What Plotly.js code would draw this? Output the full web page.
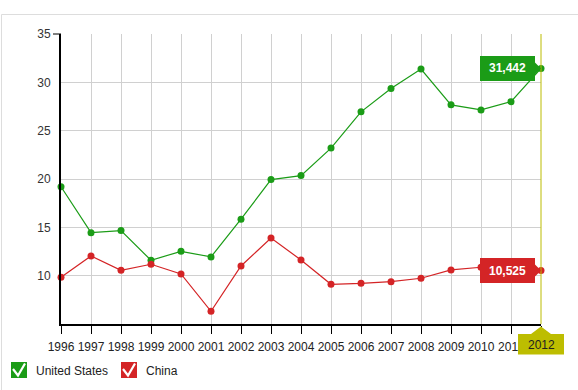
<!DOCTYPE html>
<html>
<head>
<meta charset="utf-8">
<script src="https://cdn.plot.ly/plotly-3.0.1.min.js"></script>
<style>
  html, body { margin: 0; padding: 0; background: #fff; }
  #chart { width: 578px; height: 390px; }
</style>
</head>
<body>
<div id="chart"></div>
<script>
const years = [1996, 1997, 1998, 1999, 2000, 2001, 2002, 2003, 2004, 2005, 2006, 2007, 2008, 2009, 2010, 2011, 2012];
const usValues = [19.2, 14.45, 14.66, 11.59, 12.52, 11.94, 15.84, 19.94, 20.35, 23.2, 26.95, 29.36, 31.37, 27.67, 27.15, 28.0, 31.442];
const chinaValues = [9.83, 12.04, 10.56, 11.18, 10.18, 6.31, 11.0, 13.9, 11.62, 9.11, 9.21, 9.38, 9.73, 10.59, 10.87, 10.8, 10.525];
const seriesNames = ['United States', 'China'];
const seriesColors = ['#1b9c17', '#d42426'];
const yTickVals = [10, 15, 20, 25, 30, 35];
const xTickLabels = years.map(String);

const W = 578, H = 390;
const M = {l: 61, r: 37, t: 34, b: 66};
const PW = W - M.l - M.r, PH = H - M.t - M.b;
const px2paperX = p => (p - M.l) / PW;
const px2paperY = p => (H - M.b - p) / PH;
const FONT = 'Arial, "Liberation Sans", sans-serif';

const allSeries = [usValues, chinaValues];
const traces = allSeries.map((vals, i) => ({
  x: years, y: vals, type: 'scatter', mode: 'lines+markers',
  name: seriesNames[i],
  line: {color: seriesColors[i], width: 1.2},
  marker: {color: seriesColors[i], size: 7},
  cliponaxis: false, hoverinfo: 'none'
}));

const lastYear = years[years.length - 1];
const lastLabel = xTickLabels[xTickLabels.length - 1];
// the last year's label is drawn in the crosshair badge instead of as a tick label
const axisTickText = xTickLabels.map((t, i) => (i === xTickLabels.length - 1 ? '' : t));
const shapes = [];
const annotations = [];

// outer light frame
shapes.push({type: 'line', xref: 'paper', yref: 'paper', x0: px2paperX(1.5), x1: px2paperX(W), y0: px2paperY(14.5), y1: px2paperY(14.5), line: {color: '#dddddd', width: 1}});
shapes.push({type: 'line', xref: 'paper', yref: 'paper', x0: px2paperX(1.5), x1: px2paperX(1.5), y0: px2paperY(14.5), y1: px2paperY(H), line: {color: '#dddddd', width: 1}});

// top tick on y axis
shapes.push({type: 'line', xref: 'paper', yref: 'paper', x0: px2paperX(53), x1: px2paperX(61), y0: 1, y1: 1, line: {color: '#000', width: 1}});

// crosshair (last year sits at the right edge of the plot)
shapes.push({type: 'line', xref: 'paper', yref: 'paper', x0: 1, x1: 1, y0: 0, y1: 1, line: {color: '#bcbc00', width: 1}, layer: 'above'});

// value labels at last point
allSeries.forEach((vals, i) => {
  const v = vals[vals.length - 1];
  shapes.push({
    type: 'path', layer: 'above', xref: 'paper', yref: 'paper',
    xsizemode: 'pixel', ysizemode: 'pixel', xanchor: 1, yanchor: (v - 5) / 30,
    path: 'M-61,12.5 L-6,12.5 L-6,6 L0,0 L-6,-6 L-6,-12.5 L-61,-12.5 Z',
    fillcolor: seriesColors[i], line: {width: 0}
  });
  annotations.push({
    x: lastYear, y: v, xref: 'x', yref: 'y', xanchor: 'center', yanchor: 'middle',
    xshift: -34, showarrow: false,
    text: '<b>' + v.toFixed(3).replace('.', ',') + '</b>',
    font: {family: FONT, size: 12, color: '#ffffff'}
  });
});

// x crosshair label box
shapes.push({
  type: 'path', layer: 'above', xref: 'paper', yref: 'paper',
  xsizemode: 'pixel', ysizemode: 'pixel', xanchor: 1, yanchor: 0,
  path: 'M-23,-10 L-10,-10 L0,-2.5 L10,-10 L23,-10 L23,-30.5 L-23,-30.5 Z',
  fillcolor: '#bdbd00', line: {width: 0}
});
annotations.push({
  x: lastYear, y: px2paperY(344.5), xref: 'x', yref: 'paper', xanchor: 'center', yanchor: 'middle',
  showarrow: false, text: lastLabel,
  font: {family: FONT, size: 12, color: '#222'}
});

// custom legend
const legendX = [11, 121];
const legendTextX = [34, 144];
seriesNames.forEach((name, i) => {
  const ax = px2paperX(legendX[i]), ay = px2paperY(362);
  shapes.push({
    type: 'path', xref: 'paper', yref: 'paper', xsizemode: 'pixel', ysizemode: 'pixel',
    xanchor: ax, yanchor: ay, path: 'M0,0 L16,0 L16,-16 L0,-16 Z',
    fillcolor: seriesColors[i], line: {width: 0}
  });
  shapes.push({
    type: 'path', xref: 'paper', yref: 'paper', xsizemode: 'pixel', ysizemode: 'pixel',
    xanchor: ax, yanchor: ay, path: 'M2,-7 L7,-13.5 L14,-1.5',
    line: {color: '#ffffff', width: 2.2}
  });
  annotations.push({
    x: px2paperX(legendTextX[i]), y: px2paperY(371), xref: 'paper', yref: 'paper',
    xanchor: 'left', yanchor: 'middle', showarrow: false, text: name,
    font: {family: FONT, size: 12, color: '#222'}
  });
});

const layout = {
  width: W, height: H,
  margin: M,
  paper_bgcolor: '#ffffff', plot_bgcolor: '#ffffff',
  showlegend: false,
  font: {family: FONT, size: 12, color: '#222'},
  xaxis: {
    range: [years[0], lastYear], tickvals: years, ticktext: axisTickText,
    showgrid: true, gridcolor: '#d0d0d0', gridwidth: 1,
    showline: true, linecolor: '#000', linewidth: 2,
    ticks: 'outside', ticklen: 8, tickcolor: '#000', tickwidth: 1,
    ticklabelstandoff: 3,
    tickfont: {family: FONT, size: 12, color: '#222'},
    zeroline: false, fixedrange: true
  },
  yaxis: {
    range: [5, 35], tickvals: yTickVals,
    showgrid: true, gridcolor: '#d0d0d0', gridwidth: 1,
    showline: true, linecolor: '#000', linewidth: 2,
    ticks: '', ticklabelstandoff: 6,
    tickfont: {family: FONT, size: 12, color: '#333'},
    zeroline: false, fixedrange: true
  },
  shapes: shapes,
  annotations: annotations
};

Plotly.newPlot('chart', traces, layout, {displayModeBar: false, staticPlot: true});
</script>
</body>
</html>
